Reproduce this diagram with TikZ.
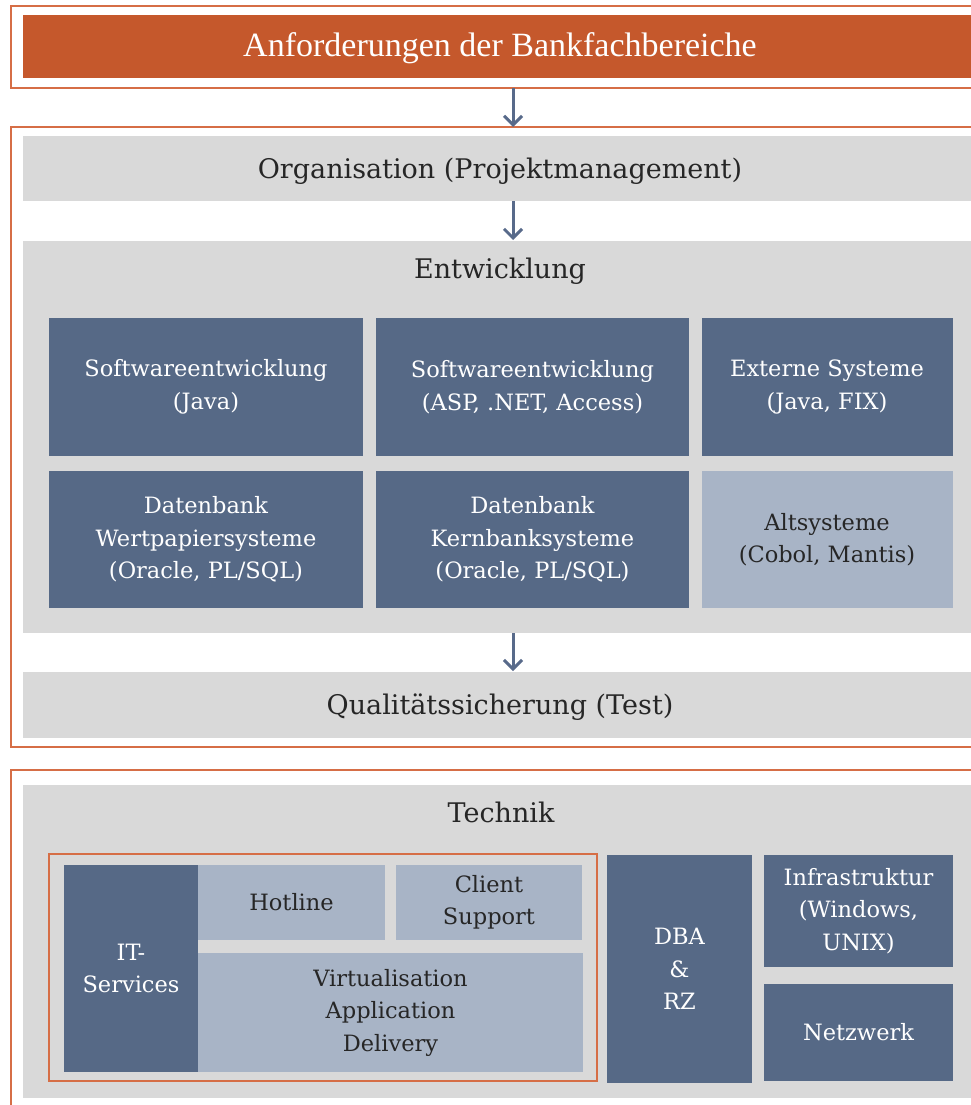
\documentclass[tikz,border=0pt]{standalone}
\usepackage{fontspec}
\setmainfont{DejaVu Serif}
\newfontfamily\titlefont{Liberation Serif}
\usetikzlibrary{arrows.meta}
\definecolor{orng}{RGB}{197,88,44}
\definecolor{frameor}{RGB}{214,110,70}
\definecolor{grayb}{RGB}{217,217,217}
\definecolor{darkb}{RGB}{86,105,134}
\definecolor{lightb}{RGB}{168,180,198}
\definecolor{arrowc}{RGB}{88,106,138}
\tikzset{
  frameor/.style={draw=frameor, line width=2pt},
  graybar/.style={fill=grayb, draw=none},
  dbox/.style={fill=darkb, draw=none, text=white, align=center, font=\fontsize{22.5}{32.5}\selectfont, inner sep=0pt},
  lbox/.style={fill=lightb, draw=none, text=black!85, align=center, font=\fontsize{22.5}{32.5}\selectfont, inner sep=0pt},
  bigtxt/.style={text=black!85, font=\fontsize{27}{30}\selectfont, inner sep=0pt},
  flow/.style={draw=arrowc, line width=3pt, -{Straight Barb[length=9pt,width=18pt,line width=3pt]}},
}
\begin{document}
\begin{tikzpicture}[x=1pt,y=-1pt]
\useasboundingbox (0,0) rectangle (971,1105);
\clip (0,0) rectangle (971,1105);
\fill[white] (0,0) rectangle (971,1105);
% top frame and title
\draw[frameor] (11,6) rectangle (990,88);
\node[fill=orng, minimum width=970pt, minimum height=63pt, inner sep=0pt, anchor=north west, text=white] (title) at (23,15) {};
\node[text=white, font=\titlefont\fontsize{34}{36}\selectfont, inner sep=0pt] (titletxt) at (500,48) {Anforderungen der Bankfachbereiche};
% frame 2
\draw[frameor] (11,127) rectangle (990,747);
\node[graybar, minimum width=970pt, minimum height=65pt, anchor=north west] (orgbar) at (23,136) {};
\node[bigtxt] (orgtxt) at (500,171) {Organisation (Projektmanagement)};
\node[graybar, minimum width=970pt, minimum height=392pt, anchor=north west] (entbar) at (23,241) {};
\node[bigtxt] (enttxt) at (500,271) {Entwicklung};
\node[dbox, minimum width=314pt, minimum height=138pt] (sj) at (206,387) {Softwareentwicklung\\(Java)};
\node[dbox, minimum width=313pt, minimum height=138pt] (sa) at (532.5,387) {Softwareentwicklung\\(ASP, .NET, Access)};
\node[dbox, minimum width=251pt, minimum height=138pt] (ex) at (827,387) {Externe Systeme\\(Java, FIX)};
\node[dbox, minimum width=314pt, minimum height=137pt] (dw) at (206,539.5) {Datenbank\\Wertpapiersysteme\\(Oracle, PL/SQL)};
\node[dbox, minimum width=313pt, minimum height=137pt] (dk) at (532.5,539.5) {Datenbank\\Kernbanksysteme\\(Oracle, PL/SQL)};
\node[lbox, minimum width=251pt, minimum height=137pt] (alt) at (827,539.5) {Altsysteme\\(Cobol, Mantis)};
\node[graybar, minimum width=970pt, minimum height=66pt, anchor=north west] (qbar) at (23,672) {};
\node[bigtxt] (qtxt) at (500,707) {Qualitätssicherung (Test)};
% arrows
\coordinate (a1s) at (513,88);
\coordinate (a1e) at (513,127);
\draw[flow] (a1s) -- (a1e);
\coordinate (a2s) at (513,201);
\coordinate (a2e) at (513,240);
\draw[flow] (a2s) -- (a2e);
\coordinate (a3s) at (513,633);
\coordinate (a3e) at (513,671);
\draw[flow] (a3s) -- (a3e);
% frame 3
\draw[frameor] (11,770) rectangle (990,1130);
\node[graybar, minimum width=970pt, minimum height=313pt, anchor=north west] (techbar) at (23,785) {};
\node[bigtxt] (techtxt) at (501,812) {Technik};
\draw[frameor] (49,854) rectangle (597,1081);
\node[dbox, minimum width=134pt, minimum height=207pt] (its) at (131,968.5) {IT-\\Services};
\node[lbox, minimum width=187pt, minimum height=75pt] (hot) at (291.5,902.5) {Hotline};
\node[lbox, minimum width=186pt, minimum height=75pt] (cli) at (489,902.5) {Client\\Support};
\node[lbox, minimum width=385pt, minimum height=119pt] (vir) at (390.5,1012.5) {Virtualisation\\Application\\Delivery};
\node[dbox, minimum width=145pt, minimum height=228pt] (dba) at (679.5,969) {DBA\\\&\\RZ};
\node[dbox, minimum width=189pt, minimum height=112pt] (inf) at (858.5,911) {Infrastruktur\\(Windows,\\UNIX)};
\node[dbox, minimum width=189pt, minimum height=97pt] (net) at (858.5,1032.5) {Netzwerk};
\end{tikzpicture}
\end{document}
